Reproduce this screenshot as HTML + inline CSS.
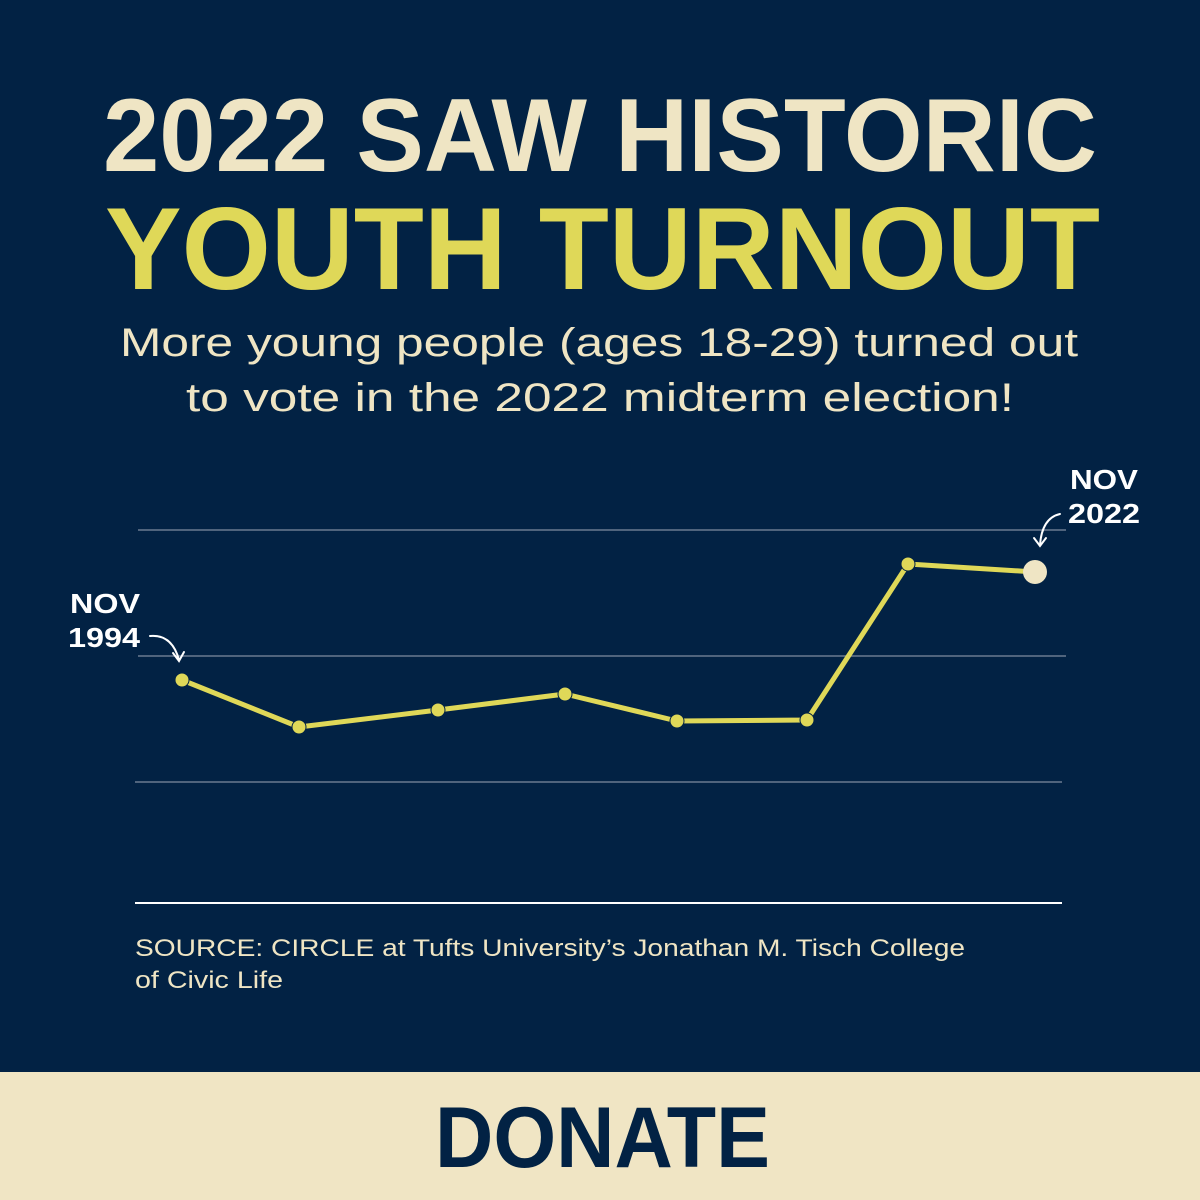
<!DOCTYPE html>
<html><head><meta charset="utf-8"><style>
html,body{margin:0;padding:0;background:#022244;}
svg{display:block}
</style></head><body>
<svg width="1200" height="1200" viewBox="0 0 1200 1200" xmlns="http://www.w3.org/2000/svg">
<rect width="1200" height="1200" fill="#022244"/>
<g font-family="Liberation Sans, sans-serif" font-weight="bold">
<text x="103" y="171" font-size="104" fill="#EFE5C4" textLength="994" lengthAdjust="spacingAndGlyphs">2022 SAW HISTORIC</text>
<text x="105" y="289" font-size="117" fill="#DFD858" textLength="995" lengthAdjust="spacingAndGlyphs">YOUTH TURNOUT</text>
</g>
<g font-family="Liberation Sans, sans-serif" font-size="40" fill="#EFE5C4">
<text x="120" y="356" textLength="958" lengthAdjust="spacingAndGlyphs">More young people (ages 18-29) turned out</text>
<text x="186" y="411" textLength="828" lengthAdjust="spacingAndGlyphs">to vote in the 2022 midterm election!</text>
</g>
<g stroke="#6b7b90" stroke-width="1.5">
<line x1="138" y1="530" x2="1066" y2="530"/>
<line x1="138" y1="656" x2="1066" y2="656"/>
<line x1="135" y1="782" x2="1062" y2="782"/>
</g>
<line x1="135" y1="903" x2="1062" y2="903" stroke="#ffffff" stroke-width="2"/>
<polyline points="182,680 299,727 438,710 565,694 677,721 807,720 908,564 1035,572" fill="none" stroke="#DFD858" stroke-width="5" stroke-linejoin="round"/>
<g fill="#DFD858" stroke="#022244" stroke-width="1">
<circle cx="182" cy="680" r="7"/><circle cx="299" cy="727" r="7"/><circle cx="438" cy="710" r="7"/><circle cx="565" cy="694" r="7"/><circle cx="677" cy="721" r="7"/><circle cx="807" cy="720" r="7"/><circle cx="908" cy="564" r="7"/>
</g>
<circle cx="1035" cy="572" r="12" fill="#EFE5C4"/>
<g font-family="Liberation Sans, sans-serif" font-weight="bold" font-size="28" fill="#ffffff">
<text x="70" y="613" textLength="70" lengthAdjust="spacingAndGlyphs">NOV</text>
<text x="68" y="647" textLength="72" lengthAdjust="spacingAndGlyphs">1994</text>
<text x="1070" y="489" textLength="68" lengthAdjust="spacingAndGlyphs">NOV</text>
<text x="1068" y="523" textLength="72" lengthAdjust="spacingAndGlyphs">2022</text>
</g>
<g fill="none" stroke="#ffffff" stroke-width="2" stroke-linecap="round">
<path d="M150,636 Q172,634 179,660"/><path d="M173,653 L179,661 L184,652"/>
<path d="M1060,514 Q1042,518 1040,545"/><path d="M1034,538 L1040,546 L1046,538"/>
</g>
<g font-family="Liberation Sans, sans-serif" font-size="24" fill="#EFE5C4">
<text x="135" y="956" textLength="830" lengthAdjust="spacingAndGlyphs">SOURCE: CIRCLE at Tufts University’s Jonathan M. Tisch College</text>
<text x="135" y="988" textLength="148" lengthAdjust="spacingAndGlyphs">of Civic Life</text>
</g>
<rect x="0" y="1072" width="1200" height="128" fill="#F0E5C4"/>
<text x="435" y="1167" font-family="Liberation Sans, sans-serif" font-weight="bold" font-size="86" fill="#022244" textLength="335" lengthAdjust="spacingAndGlyphs">DONATE</text>
</svg>
</body></html>
